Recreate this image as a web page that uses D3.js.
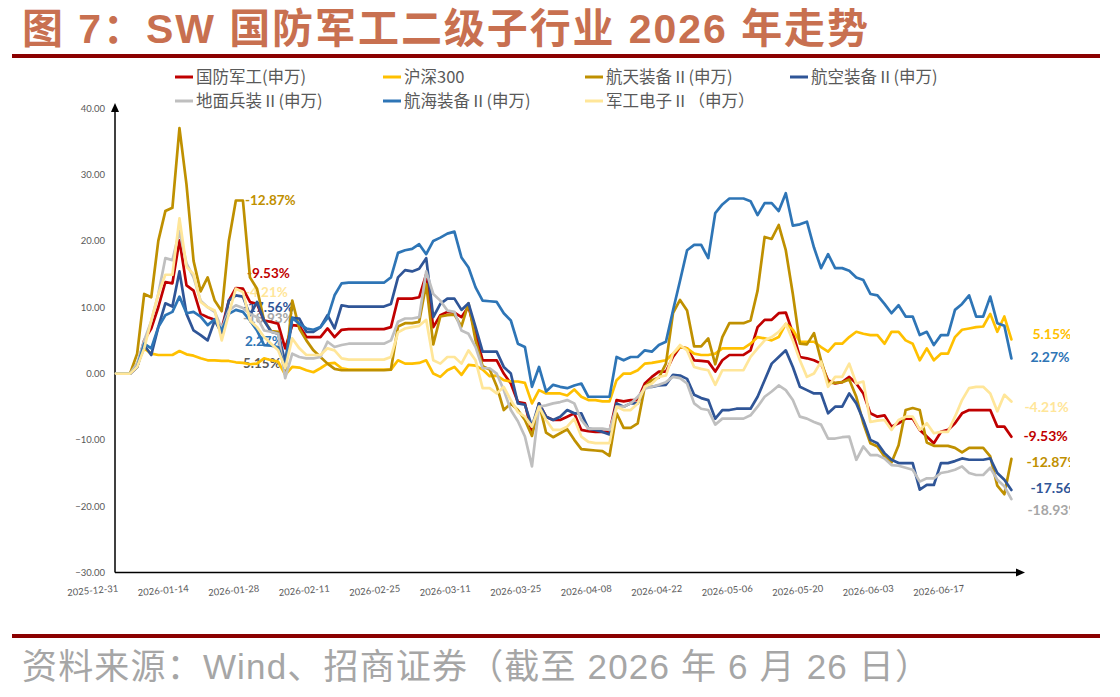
<!DOCTYPE html>
<html>
<head>
<meta charset="utf-8">
<script src="https://cdn.jsdelivr.net/npm/d3@7"></script>
<style>
  body { margin: 0; background: #fff; }
</style>
</head>
<body>
<div class="canvas"></div>
<script>
// tick labels, one every 10 trading days (index 0 = 2025-12-31)
const tickLabels = ["2025-12-31", "2026-01-14", "2026-01-28", "2026-02-11", "2026-02-25", "2026-03-11",
  "2026-03-25", "2026-04-08", "2026-04-22", "2026-05-06", "2026-05-20", "2026-06-03", "2026-06-17"];
const yTicks = [-30, -20, -10, 0, 10, 20, 30, 40];

const seriesNames = ["国防军工(申万)", "沪深300", "航天装备Ⅱ(申万)", "航空装备Ⅱ(申万)",
  "地面兵装Ⅱ(申万)", "航海装备Ⅱ(申万)", "军工电子Ⅱ（申万）"];

// cumulative change, %, per trading day
const gfjg = [0,0,0,1,5,6.8,10,13.8,13.6,20.1,
  13.3,12.5,9,8.5,8.1,6.8,11,12.9,12.8,10.8,
  10.5,8,7.8,7.5,3.8,7.3,7.2,5.5,5.5,5.5,
  6.8,5.5,6.6,6.7,6.7,6.7,6.7,6.7,6.7,7,
  11.3,11.3,11.3,11.5,15,7,8.8,9.3,9.2,8.5,
  10.1,6,2,2,2,0,-1.5,-4.3,-4.5,-9,
  -4.5,-6.5,-7,-7,-6.5,-6,-8.5,-8.7,-8.8,-8.8,
  -8.8,-4,-4.2,-4,-4,-1.5,-0.5,0.3,0.3,2.5,
  4,3.8,2,1.9,1.8,0.3,2,2.8,2.8,2.8,
  3.5,7,8.1,8.1,9.1,9.2,6.1,2.5,2.3,2,
  1.5,-1,-1.5,-1.3,-0.5,-1.5,-3,-6,-6.5,-6.3,
  -8,-7.5,-6.8,-6.8,-8.5,-9.5,-10.5,-8.8,-8.5,-7.5,
  -6,-5.5,-5.5,-5.5,-5.5,-8,-8,-9.53];

const hs300 = [0,0,0,1.5,3.8,3,2.8,2.8,2.8,3.4,
  2.9,2.7,2.3,2,2,1.9,1.9,1.7,1.6,1.4,
  1.5,2.3,2,1.8,-0.2,1,0.9,0.5,0.2,0.8,
  1.5,1.6,0.8,0.6,0.6,0.6,0.6,0.6,0.6,0.6,
  2,1.5,1.5,1.6,2,0,-0.5,0.5,1,-0.2,
  1.3,1.2,0.6,-0.4,-0.3,-1,-1.2,-1.2,-1.4,-4.5,
  -2.5,-3,-3,-3,-3.3,-2.4,-3.5,-4,-4,-4.2,
  -4.2,-1,0,0,0.5,1.5,1.6,1.8,2,3,
  4,3.8,3,2.8,2.8,3,3.8,3.8,3.8,3.8,
  4.5,5.5,5.3,5,5.5,7.5,6.6,4.8,4.8,4.8,
  4,3.3,4.5,4.5,5.5,6.3,6,5.8,5.8,4.5,
  6.3,6.3,5,4.5,2,3.8,2,3,3,5.5,
  6.6,6.8,7,7.1,9,6.3,8.6,5.15];

const htzb = [0,0,0,3,12,11.5,20,24.5,25,37,
  28.5,17,12.4,14.5,11,9.4,20,26.1,26.1,14.5,
  12.8,8,6.4,6.3,0.3,11,6.8,5,3.5,2.5,
  1.5,0.7,0.5,0.5,0.5,0.5,0.5,0.5,0.5,0.6,
  7.1,7.6,7.6,7.8,13.5,4.4,8.6,8.8,8.9,7.1,
  10.6,5,1.1,0.6,-1.9,-5.5,-4.5,-5.5,-7,-9.4,
  -4.5,-8.9,-9.6,-9,-8.4,-10,-11.4,-11.5,-11.6,-11.7,
  -12.4,-6,-8.2,-8.2,-7.5,-2,-1,-0.6,1.5,9.1,
  11.1,9.5,4.1,4.1,5.3,1.4,5.5,7.6,7.6,7.6,
  8,12.5,20.6,20.3,22.4,18.6,12,4.5,4.4,6.1,
  2,-1.4,-1.4,-1.3,-0.9,-3.5,-7.5,-10.5,-11,-12.5,
  -13.4,-10.8,-5.5,-5.2,-5.5,-10.4,-10.9,-10.9,-10.9,-11.2,
  -11.9,-11.2,-11.2,-11.2,-12.5,-16.9,-18.2,-12.87];

const hkzb = [0,0,0,1,4.3,2.8,7,10.6,10.1,15.4,
  9,6.5,5.8,5,8,6.1,11,11.8,11.6,8.8,
  10.8,8,6.3,6,1.8,8.4,8.3,6.3,6.3,7,
  8.8,6.8,10.3,10.1,10.1,10.1,10.1,10.1,10.1,10.5,
  14.5,15.6,15.4,15.8,17.4,8.5,10.5,11.3,11.3,9.6,
  10.6,7,3.3,3.3,3.3,1,0,-4.5,-4.7,-8,
  -4.5,-6.5,-7,-6.5,-5.5,-6,-6,-8.3,-8.5,-8.8,
  -9.2,-4.5,-5,-4.5,-4.5,-2,-2,-1.8,-1.7,-0.2,
  -0.3,-0.8,-3.2,-3.7,-4,-6.8,-5.5,-5.5,-5.3,-5.3,
  -5.3,-3.5,-1,1.5,2.5,3.5,1,-2,-2.5,-3,
  -3,-6,-5,-5,-3,-4.5,-7,-10,-10.5,-12,
  -13,-13.5,-13.5,-13.5,-17.5,-16.8,-16.8,-13.5,-13.5,-13.2,
  -12.8,-13,-13,-13,-12.8,-15,-16,-17.56];

const dmbz = [0,0,0,1.5,5,7.9,12,17.4,17.1,21.5,
  16.6,14.5,11,10,9.3,6.8,9.5,10.3,9.9,9,
  8.5,6.5,6.3,6,-0.7,3,2.5,2.3,2.3,2.5,
  4.8,4,4.3,4.5,4.5,4.5,4.5,4.5,4.5,5,
  7.8,8.3,8.3,8.5,15.4,12,11,9.5,9.3,6.5,
  6,4,0.8,0.8,0,-2.5,-5.5,-7.2,-9.5,-14,
  -5,-4.8,-4.5,-4.3,-4,-4.5,-7,-8.3,-8.3,-8.3,
  -8.5,-5,-5,-4.5,-3.5,-2.3,-2,-1.7,-1.3,-0.5,
  -0.7,-1.5,-4.5,-5.3,-5.5,-7.7,-6.8,-6.8,-6.8,-6.8,
  -6.3,-5,-3.5,-2.7,-1.8,-2.5,-4,-6.5,-6.8,-7.3,
  -7.7,-9.8,-9.8,-9.6,-9.5,-13,-11,-12.3,-12.3,-12.8,
  -13.8,-13.9,-14.2,-14.5,-16.3,-15.8,-15.8,-15,-14.8,-14.5,
  -14,-15,-15.3,-15.3,-14.2,-16,-17,-18.93];

const hhzb = [0,0,0,1,4.5,3.8,7,8.8,9.3,11.6,
  9.1,9.3,8.6,7.3,8.2,6.5,9,9.6,9.3,8,
  6.5,4.3,4.2,4,0.8,8.4,7.5,6.8,6.6,7,
  8.4,11.8,13.6,13.7,13.7,13.7,13.7,13.7,13.7,14.5,
  18.2,18.6,18.8,19.5,18,20,20.5,21.1,21.4,17.5,
  16,13,11,10.9,10.8,9.1,8,4.5,4,-2,
  1,-2.7,-1.7,-2,-2.2,-1.8,-1.5,-3.5,-3.5,-3.5,
  -3.5,2.5,2,2.5,2.5,3.5,3.3,4.3,4.8,9.5,
  14,18.6,19.4,19.4,17.4,24.2,25.5,26.4,26.4,26.4,
  26,23.9,25.7,25.7,24.5,27.2,22.3,22.5,22.9,19,
  15.9,18,15.9,15.9,15.5,14.5,14.1,12,11.8,10.5,
  9.1,10.3,8.6,8.6,5.8,6.3,4.3,5.8,5.8,9.6,
  10.5,11.8,8.6,8.6,11.6,7.6,7.2,2.27];

const jgdz = [0,0,0,1,3.8,8,12,14.9,14.9,23.4,
  16.1,15,10.8,10,9.5,5,9,12.8,12.3,8,
  7,5.5,4.5,3.5,0.8,5.3,3.8,2.8,2.8,2.8,
  3.8,3.5,2.3,2.1,2.1,2.1,2.1,2.1,2.1,2.5,
  6.2,6.8,7,7.2,8.1,2,1.5,2.5,2.5,1.5,
  3.5,2,-2.2,-2.2,-3,-2,-4,-5.8,-6.5,-8,
  -5,-7,-8.5,-8.5,-8,-6.8,-9.5,-10.3,-10.5,-10.5,
  -10.5,-5,-5.5,-5.5,-4.5,-2,-1.5,-0.5,-0.3,3,
  4.3,3.5,1,0.7,0.5,-1.7,0.5,0.5,0.5,0.5,
  2.5,3.8,5,5.5,6.3,7.5,5,2,-0.5,0,
  1.8,-2,-0.5,-0.5,1.5,-1.5,-1.2,-7.3,-7.1,-7,
  -8.5,-7,-6.5,-6.5,-8.5,-7.5,-9,-8.8,-8.8,-6.5,
  -4,-2.2,-2,-2,-3,-5.7,-3.2,-4.21];

const endLabels = ["-9.53%", "5.15%", "-12.87%", "-17.56%", "-18.93%", "2.27%", "-4.21%"];

const allSeries = [gfjg, hs300, htzb, hkzb, dmbz, hhzb, jgdz];
const colors = ["#C00000", "#FFC000", "#BF9000", "#2F5597", "#BFBFBF", "#2E75B6", "#FFE699"];
const labelColors = ["#C00000", "#FFC000", "#BF9000", "#2F5597", "#A6A6A6", "#2E75B6", "#FFE699"];

const W = 1120, H = 697;
const svg = d3.select(".canvas").append("svg").attr("width", W).attr("height", H);

// title + rules
svg.append("text")
  .attr("x", 22).attr("y", 43)
  .attr("fill", "#C87050")
  .attr("textLength", 846).attr("lengthAdjust", "spacing")
  .style("font-family", "'Liberation Sans','Noto Sans CJK SC',sans-serif")
  .style("font-weight", "bold")
  .style("font-size", "41px")
  .text("图 7：SW 国防军工二级子行业 2026 年走势");

svg.append("rect").attr("x", 12).attr("y", 54).attr("width", 1088).attr("height", 4).attr("fill", "#8B0000");
svg.append("rect").attr("x", 12).attr("y", 634).attr("width", 1088).attr("height", 4).attr("fill", "#8B0000");

svg.append("text")
  .attr("x", 22).attr("y", 679)
  .attr("fill", "#A6A6A6")
  .attr("textLength", 908).attr("lengthAdjust", "spacing")
  .style("font-family", "'Liberation Sans','Noto Sans CJK SC',sans-serif")
  .style("font-size", "35px")
  .text("资料来源：Wind、招商证券（截至 2026 年 6 月 26 日）");

// scales
const n = gfjg.length;
const x = d3.scaleLinear().domain([0, n - 1]).range([116, 1011.4]);
const y = d3.scaleLinear().domain([-30, 40]).range([572.5, 108.3]);

// y axis
const yAxis = svg.append("g")
  .attr("transform", "translate(115,0)")
  .call(d3.axisLeft(y).tickValues(yTicks).tickFormat(d3.format(".2f")).tickSize(0).tickPadding(10));
yAxis.select(".domain").remove();
yAxis.selectAll("text").attr("fill", "#595959").style("font-family", "Lato, sans-serif").style("font-size", "9.5px");

// x axis labels, slightly tilted, right end at the tick
const xAxis = svg.append("g")
  .attr("transform", "translate(0," + y(-30) + ")")
  .call(d3.axisBottom(x).tickValues(tickLabels.map((d, i) => i * 10)).tickFormat((d, i) => tickLabels[i]).tickSize(0));
xAxis.select(".domain").remove();
xAxis.selectAll("text")
  .attr("fill", "#595959")
  .style("font-family", "Lato, sans-serif").style("font-size", "9.5px")
  .attr("text-anchor", "end")
  .attr("dy", null).attr("y", 0)
  .attr("transform", "translate(2,19) rotate(-5)");

// axis lines with arrows
svg.append("line").attr("x1", 115).attr("x2", 115).attr("y1", y(-30)).attr("y2", 110)
  .attr("stroke", "#000").attr("stroke-width", 1.5);
svg.append("path").attr("d", "M111,112 L115,103 L119,112 Z").attr("fill", "#000");
svg.append("line").attr("x1", 115).attr("x2", 1018).attr("y1", y(-30)).attr("y2", y(-30))
  .attr("stroke", "#000").attr("stroke-width", 1.5);
svg.append("path").attr("d", `M1016,${y(-30) - 4} L1025,${y(-30)} L1016,${y(-30) + 4} Z`).attr("fill", "#000");

// plot group, clipped like the original picture
svg.append("clipPath").attr("id", "plotclip")
  .append("rect").attr("x", 0).attr("y", 60).attr("width", 1070).attr("height", 560);
const plot = svg.append("g").attr("clip-path", "url(#plotclip)");

// stale data labels near the end of January (drawn under the lines)
const oldLabelPos = [[247, 278], null, [245, 205], [243, 312], [243, 323], [245, 346], [245, 297]];
const oldColors = ["#C00000", null, "#BF9000", "#2F5597", "#A6A6A6", "#2E75B6", "#FFE699"];
allSeries.forEach((s, k) => {
  if (!oldLabelPos[k]) return;
  plot.append("text")
    .attr("x", oldLabelPos[k][0]).attr("y", oldLabelPos[k][1])
    .attr("fill", oldColors[k])
    .style("font-family", "Lato, sans-serif").style("font-weight", "bold").style("font-size", "13.5px")
    .text(endLabels[k]);
});
plot.append("text")
  .attr("x", 243).attr("y", 368)
  .attr("fill", "#595959")
  .style("font-family", "Lato, sans-serif").style("font-weight", "bold").style("font-size", "13.5px")
  .text(endLabels[1]);

const line = d3.line().x((d, i) => x(i)).y(d => y(d));

plot.selectAll(".series")
  .data(allSeries)
  .enter()
  .append("path")
  .attr("class", "series")
  .attr("d", d => line(d))
  .attr("fill", "none")
  .attr("stroke", (d, i) => colors[i])
  .attr("stroke-width", 2.7)
  .attr("stroke-linejoin", "round")
  .attr("stroke-linecap", "round");

// end labels on the right (offsets keep them apart)
const endOffset = [[12, 4], [21, 0], [15, 8], [19, 3], [16, 16], [19, 3], [13, 11]];
allSeries.forEach((s, k) => {
  plot.append("text")
    .attr("x", x(n - 1) + endOffset[k][0])
    .attr("y", y(s[n - 1]) + endOffset[k][1])
    .attr("fill", labelColors[k])
    .style("font-family", "Lato, sans-serif").style("font-weight", "bold").style("font-size", "14px")
    .text(endLabels[k]);
});

// legend
const legendPos = [[175, 77], [383, 77], [585, 77], [790, 77], [175, 101], [383, 101], [585, 101]];
const legend = svg.selectAll(".legend")
  .data(seriesNames)
  .enter()
  .append("g")
  .attr("class", "legend")
  .attr("transform", (d, i) => `translate(${legendPos[i][0]},${legendPos[i][1]})`);
legend.append("line").attr("x1", 0).attr("x2", 18).attr("y1", 0).attr("y2", 0)
  .attr("stroke", (d, i) => colors[i]).attr("stroke-width", 3);
legend.append("text")
  .attr("x", 21).attr("y", 6)
  .attr("fill", "#595959")
  .style("font-family", "'Noto Sans CJK SC',sans-serif")
  .style("font-size", "16.5px")
  .text(d => d);
</script>
</body>
</html>
